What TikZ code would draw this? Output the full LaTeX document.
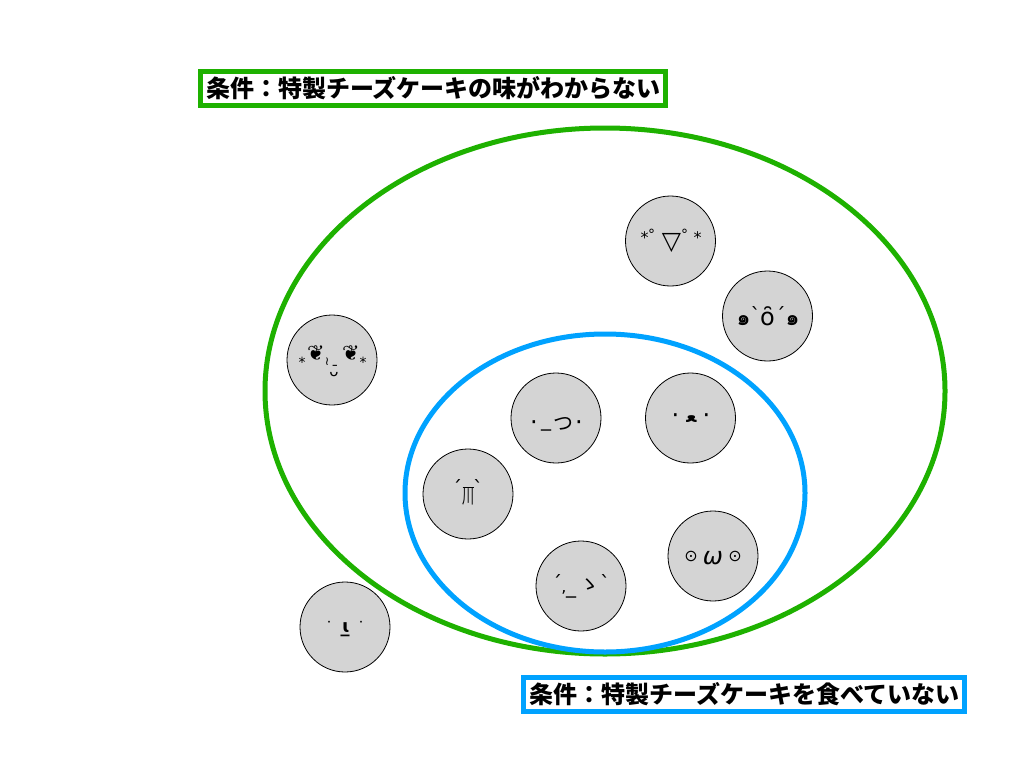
\documentclass[tikz,border=0pt]{standalone}
\usepackage{fontspec}
\setmainfont{DejaVu Sans}
\newfontfamily\cjkf{Noto Sans CJK JP}
\newfontfamily\thaif[Script=Thai]{Loma}
\newcommand\sz[1]{\fontsize{#1}{#1}\selectfont}
\newcommand\pc[3]{\sbox0{#3}\kern#1pt\makebox[0pt]{\raisebox{\dimexpr#2pt-0.5\ht0+0.5\dp0\relax}[0pt][0pt]{\usebox0}}\kern-#1pt\relax}
\definecolor{grn}{HTML}{1EB100}
\definecolor{blu}{HTML}{00A2FF}
\definecolor{facegray}{HTML}{D4D4D4}
\tikzset{
  face/.style={circle,draw=black,line width=0.8pt,fill=facegray,minimum size=90pt,inner sep=0pt,font=\sz{16}},
  condbox/.style={rectangle,line width=5pt,fill=white,inner sep=0pt,text=black,font=\cjkf\bfseries\sz{24},anchor=center},
  setline/.style={line width=5pt,draw=#1}
}
\begin{document}
\begin{tikzpicture}[x=1pt,y=-1pt]
\useasboundingbox (0,0) rectangle (1024,768);
\draw[setline=grn] (605,391) ellipse [x radius=340,y radius=263];
\draw[setline=blu] (605,493) ellipse [x radius=200,y radius=159];
\node[face] (a) at (670.5,241) {\pc{-26}{3}{*}\pc{-19}{7}{\sz{14}°}\pc{1}{-2}{\sz{25}▽}\pc{14}{7}{\sz{14}°}\pc{27}{3}{*}};
\node[face] (b) at (767.5,316) {\pc{-24}{-5}{\thaif\bfseries\sz{22}๑}\pc{-12}{2}{\sz{20}ˋ}\pc{0}{0}{\sz{24}ȏ}\pc{13}{2}{\sz{20}´}\pc{25}{-5}{\thaif\bfseries\sz{22}๑}};
\node[face] (c) at (332,360) {\pc{-30}{-2}{\sz{14}*}\pc{-16}{7}{\sz{21}\bfseries ❦}\pc{-5}{-2}{\sz{12}≀}\pc{2}{-11}{\sz{15}ᴗ̄}\pc{19}{7}{\sz{21}\bfseries ❦}\pc{31}{-2}{\sz{14}*}};
\node[face] (d) at (556,418) {\pc{-22}{-8}{\sz{24}·}\pc{-10}{-11}{\sz{20}\_}\pc{7}{-6}{\cjkf\sz{20}つ}\pc{23}{-8}{\sz{24}·}};
\node[face] (e) at (690.5,418) {\pc{-15}{-1}{\sz{24}·}\pc{1}{-1}{\bfseries\sz{18}ﻌ}\pc{16}{-1}{\sz{24}·}};
\node[face] (f) at (468,494) {\pc{-11}{7}{\sz{20}´}\pc{0}{-2}{\cjkf\sz{20}\scalebox{0.6}[1]{川}}\pc{0}{6.5}{\rule{11pt}{0.9pt}}\pc{10}{7}{\sz{20}ˋ}};
\node[face] (g) at (581,586) {\pc{-24}{4}{\sz{20}´}\pc{-17}{-6}{,}\pc{-10}{-10}{\sz{20}\_}\pc{8}{1}{\cjkf\sz{20}ゝ}\pc{24}{4}{\sz{20}ˋ}};
\node[face] (h) at (713,556) {\pc{-22}{0}{\sz{16}⊙}\pc{0}{-2}{\itshape\sz{24}ω}\pc{22}{0}{\sz{16}⊙}};
\node[face] (i) at (345,627) {\pc{-16}{0}{˙}\pc{1}{-3}{\bfseries\sz{18}ɩ̲}\pc{16}{0}{˙}};
\node[condbox,draw=grn,minimum width=465pt,minimum height=34pt] (l1) at (432.5,88) {\kern2pt条件：特製チーズケーキの味がわからない};
\node[condbox,draw=blu,minimum width=441pt,minimum height=34pt] (l2) at (743.5,694.5) {\kern2pt条件：特製チーズケーキを食べていない};
\end{tikzpicture}
\end{document}
